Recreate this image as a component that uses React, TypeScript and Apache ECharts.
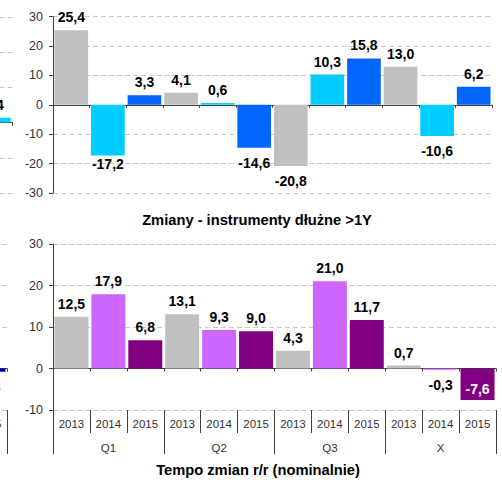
import React, { useEffect, useRef } from 'react';
import * as echarts from 'echarts';

// ---------- data ----------
const quarters = ['Q1', 'Q2', 'Q3', 'X'];
const years = ['2013', '2014', '2015'];

// Zmiany - instrumenty dłużne >1Y
const debt2013 = [25.4, 4.1, -20.8, 13.0];
const debt2014 = [-17.2, 0.6, 10.3, -10.6];
const debt2015 = [3.3, -14.6, 15.8, 6.2];

// Tempo zmian r/r (nominalnie)
const tempo2013 = [12.5, 13.1, 4.3, 0.7];
const tempo2014 = [17.9, 9.3, 21.0, -0.3];
const tempo2015 = [6.8, 9.0, 11.7, -7.6];

// neighbouring charts, cut off at the left edge (only their last bar is visible)
const leftTopYears = ['2015'];
const leftTopValues = [1.4];
const leftBottomYears = ['2015'];
const leftBottomValues = [-0.8];

const debtTicks = { min: -30, max: 30, interval: 10 };
const tempoTicks = { min: -10, max: 30, interval: 10 };
const leftTopTicks = { min: -20, max: 30, interval: 10 };

const topTitle = 'Zmiany - instrumenty dłużne >1Y';
const bottomTitle = 'Tempo zmian r/r (nominalnie)';

// ---------- styles ----------
const FONT = '"Liberation Sans", Arial, Helvetica, sans-serif';
const debtColors = ['#C0C0C0', '#00CCFF', '#0066FF'];
const tempoColors = ['#C0C0C0', '#CC66FF', '#800080'];
const AXIS = '#404040';
const GRID = '#C8C8C8';

const interleave = (a: number[], b: number[], c: number[]) => {
  const out: number[] = [];
  for (let i = 0; i < a.length; i++) out.push(a[i], b[i], c[i]);
  return out;
};
const debtValues = interleave(debt2013, debt2014, debt2015);
const tempoValues = interleave(tempo2013, tempo2014, tempo2015);
const yearCats = quarters.flatMap(() => years);
const slotCats = quarters.flatMap((q) => years.map((y) => q + ' ' + y));

const fmt = (v: number) => v.toFixed(1).replace('.', ',');

const labelOverrides: Record<string, any> = {
  'debt-1': { position: 'bottom', distance: 2 },
  'tempo-11': { position: 'insideBottom', distance: 4, color: '#FFFFFF' },
};

function items(values: number[], colors: string[], key: string) {
  return values.map((v, i) => {
    const base = v >= 0 ? { position: 'top', distance: 6 } : { position: 'bottom', distance: 8 };
    return {
      value: v,
      itemStyle: { color: colors[i % colors.length] },
      label: { ...base, ...(labelOverrides[key + '-' + i] || {}) },
    };
  });
}

const labelStyle = {
  show: true,
  fontSize: 14,
  fontWeight: 'bold',
  color: '#000',
  fontFamily: FONT,
  formatter: (p: any) => fmt(p.value),
};

const valueAxis = (gridIndex: number, t: any, visible: boolean) => ({
  type: 'value',
  gridIndex,
  min: t.min,
  max: t.max,
  interval: t.interval,
  axisLine: { show: visible, lineStyle: { color: AXIS, width: 1 } },
  axisTick: { show: visible, length: 4, lineStyle: { color: AXIS } },
  axisLabel: { show: visible, fontSize: 12.5, color: '#333', margin: 10, fontFamily: FONT },
  splitLine: { show: true, lineStyle: { color: GRID, type: [5, 3], width: 1 } },
});

const zeroAxis = (gridIndex: number, data: string[]) => ({
  type: 'category',
  gridIndex,
  data,
  position: 'bottom',
  axisLine: { show: true, onZero: true, lineStyle: { color: AXIS, width: 1 } },
  axisTick: { show: true, interval: 0, length: 3, lineStyle: { color: AXIS } },
  axisLabel: { show: false },
  splitLine: { show: false },
});

const labelAxis = (gridIndex: number, data: string[], tickLen: number, margin: number) => ({
  type: 'category',
  gridIndex,
  data,
  position: 'bottom',
  axisLine: { show: false, onZero: false },
  axisTick: { show: true, interval: 0, length: tickLen, lineStyle: { color: AXIS } },
  axisLabel: { show: true, interval: 0, fontSize: 11.5, color: '#333', margin, fontFamily: FONT },
  splitLine: { show: false },
});

export default function App() {
  const ref = useRef<HTMLDivElement>(null);

  useEffect(() => {
    document.body.style.margin = '0';
    if (!ref.current) return;
    const chart = echarts.init(ref.current, undefined, { renderer: 'svg' });
    const g = (o: any) => ({ ...o, containLabel: false, outerBoundsMode: 'none' });
    chart.setOption({
      animation: false,
      backgroundColor: '#FFFFFF',
      grid: [
        g({ left: 53, top: 16.7, width: 439, height: 176.3 }),
        g({ left: 53, top: 244, width: 443, height: 166 }),
        g({ left: -24.3, top: 17, width: 36.6, height: 176 }),
        g({ left: -29.9, top: 244, width: 36.9, height: 166 }),
      ],
      xAxis: [
        zeroAxis(0, slotCats),
        zeroAxis(1, slotCats),
        labelAxis(1, yearCats, 23, 8),
        labelAxis(1, quarters, 44, 32),
        zeroAxis(2, leftTopYears),
        zeroAxis(3, leftBottomYears),
        labelAxis(3, leftBottomYears, 23, 8),
        labelAxis(3, [''], 44, 32),
      ],
      yAxis: [
        valueAxis(0, debtTicks, true),
        valueAxis(1, tempoTicks, true),
        valueAxis(2, leftTopTicks, false),
        valueAxis(3, tempoTicks, false),
      ],
      series: [
        {
          type: 'bar',
          xAxisIndex: 0,
          yAxisIndex: 0,
          barCategoryGap: '8%',
          data: items(debtValues, debtColors, 'debt'),
          label: labelStyle,
        },
        {
          type: 'bar',
          xAxisIndex: 1,
          yAxisIndex: 1,
          barCategoryGap: '8%',
          data: items(tempoValues, tempoColors, 'tempo'),
          label: labelStyle,
        },
        {
          type: 'bar',
          xAxisIndex: 4,
          yAxisIndex: 2,
          barCategoryGap: '8%',
          data: items(leftTopValues, ['#00CCFF'], 'lt'),
          label: labelStyle,
        },
        {
          type: 'bar',
          xAxisIndex: 5,
          yAxisIndex: 3,
          barCategoryGap: '8%',
          data: items(leftBottomValues, ['#0000B0'], 'lb'),
          label: labelStyle,
        },
      ],
      graphic: [
        {
          type: 'text',
          x: 257,
          y: 220,
          style: {
            text: topTitle,
            font: 'bold 14.7px ' + FONT,
            fill: '#000',
            textAlign: 'center',
            textVerticalAlign: 'middle',
            align: 'center',
            verticalAlign: 'middle',
          },
        },
        {
          type: 'text',
          x: 258,
          y: 470,
          style: {
            text: bottomTitle,
            font: 'bold 14.7px ' + FONT,
            fill: '#000',
            textAlign: 'center',
            textVerticalAlign: 'middle',
            align: 'center',
            verticalAlign: 'middle',
          },
        },
      ],
    });
    return () => chart.dispose();
  }, []);

  return <div ref={ref} style={{ width: 502, height: 480 }} />;
}
